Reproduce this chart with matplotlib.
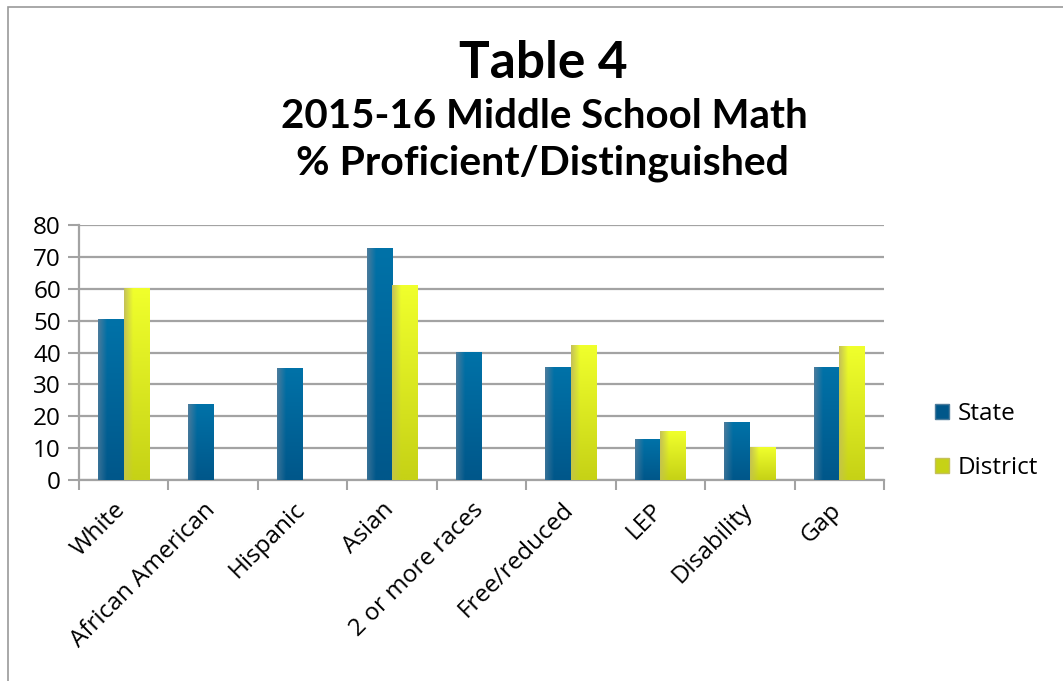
import numpy as np
import matplotlib.pyplot as plt
from matplotlib.patches import Rectangle, Patch
from matplotlib.colors import to_rgb

categories = ["White", "African American", "Hispanic", "Asian", "2 or more races",
              "Free/reduced", "LEP", "Disability", "Gap"]
state = [50.5, 23.7, 35.1, 72.5, 40.0, 35.3, 12.8, 17.9, 35.3]
district = [60.0, np.nan, np.nan, 61.0, np.nan, 42.1, 15.3, 10.2, 41.8]
y_ticks = [0, 10, 20, 30, 40, 50, 60, 70, 80]

TITLE_FONT = "Lato"
LABEL_FONT = "Open Sans"

# (left edge, top, bottom) colours for each series
state_cols = ("#4d7c9c", "#0072a8", "#00578a")
district_cols = ("#c4c05a", "#f0ff2c", "#c6d216")


def gradient_img(cols, n=64):
    edge, top, bottom = [np.array(to_rgb(c)) for c in cols]
    t = np.linspace(0, 1, n)[:, None, None]          # 0 = top, 1 = bottom
    body = top * (1 - t) + bottom * t
    s = np.linspace(0, 1, n)[None, :, None]
    w = np.clip(s / 0.35, 0, 1)                       # fade in from the left edge
    edge_col = edge * (1 - 0.3 * t) + 0.3 * t * bottom
    img = edge_col * (1 - w) + body * w
    return img


def shade_bars(ax, bars, cols):
    img = gradient_img(cols)
    for b in bars:
        h = b.get_height()
        if not np.isfinite(h) or h <= 0:
            continue
        x0 = b.get_x()
        ax.imshow(img, extent=(x0, x0 + b.get_width(), 0, h), aspect="auto",
                  origin="upper", zorder=3, interpolation="bilinear")


fig = plt.figure(figsize=(10.63, 6.81), dpi=100)
ax = fig.add_axes([79 / 1063, 1 - 480 / 681, 805 / 1063, 255 / 681])

x = np.arange(len(categories))
w = 0.285
b1 = ax.bar(x - w / 2, state, w, color=state_cols[1], zorder=2, linewidth=0)
b2 = ax.bar(x + w / 2, district, w, color=district_cols[1], zorder=2, linewidth=0)
shade_bars(ax, b1, state_cols)
shade_bars(ax, b2, district_cols)

ax.set_xlim(-0.5, len(categories) - 0.5)
ax.set_ylim(0, 80)
ax.set_yticks(y_ticks)
ax.set_yticklabels([str(v) for v in y_ticks], fontsize=17.5, family=LABEL_FONT)
ax.yaxis.grid(True, color="#a3a3a3", linewidth=1.6, zorder=0)
ax.set_axisbelow(True)

# slanted labels sit a touch left of the group centre
ax.set_xticks(x - 0.11)
ax.set_xticklabels(categories, rotation=45, ha="right", rotation_mode="anchor",
                   fontsize=17.5, family=LABEL_FONT)
ax.set_xticks(np.arange(-0.5, len(categories)), minor=True)
ax.tick_params(axis="x", which="major", length=0, pad=13)
ax.tick_params(axis="x", which="minor", length=7, color="#a3a3a3", width=1.5)
ax.tick_params(axis="y", length=8, color="#a3a3a3", width=1.5, pad=5)

for side in ("top", "right"):
    ax.spines[side].set_visible(False)
for side in ("left", "bottom"):
    ax.spines[side].set_color("#a3a3a3")
    ax.spines[side].set_linewidth(1.6)

handles = [Patch(facecolor=state_cols[2], edgecolor=state_cols[0], label="State"),
           Patch(facecolor=district_cols[2], edgecolor=district_cols[0], label="District")]
fig.legend(handles=handles, loc="center left", bbox_to_anchor=(913 / 1063, 1 - 441 / 681),
           frameon=False, prop={"family": LABEL_FONT, "size": 17.5},
           handlelength=0.6, handleheight=0.6, handletextpad=0.35, labelspacing=1.25)

fig.text(543 / 1063, 1 - 64 / 681, "Table 4", ha="center", va="center",
         fontsize=37, fontweight="bold", family=TITLE_FONT)
fig.text(544 / 1063, 1 - 116 / 681, "2015-16 Middle School Math", ha="center", va="center",
         fontsize=29, fontweight="bold", family=TITLE_FONT)
fig.text(542 / 1063, 1 - 163 / 681, "% Proficient/Distinguished", ha="center", va="center",
         fontsize=29.5, fontweight="bold", family=TITLE_FONT)

# chart frame
fig.patches.append(Rectangle((8 / 1063, -0.1), 1.2, 1.1 - 7 / 681, transform=fig.transFigure,
                             fill=False, edgecolor="#9a9a9a", linewidth=1.2))

fig.savefig("out.png", dpi=100)
